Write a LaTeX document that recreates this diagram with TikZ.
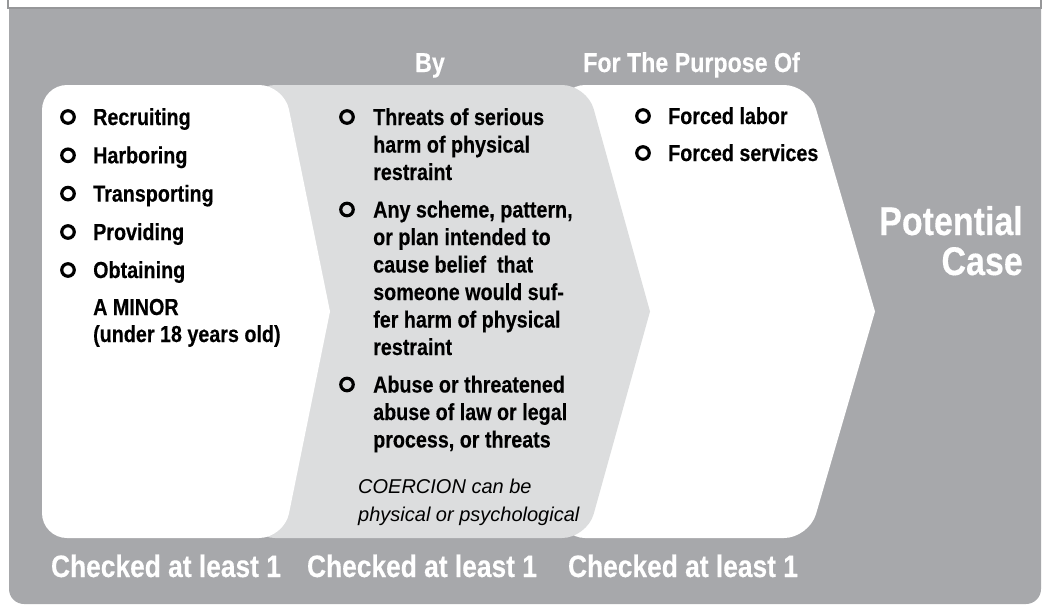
\documentclass[tikz,border=0pt]{standalone}
\usepackage{fontspec}
\setmainfont{Liberation Sans}
\newfontfamily\cond{Liberation Sans}[FakeStretch=0.85,FakeBold=0.3]
\usetikzlibrary{calc}
\definecolor{bggray}{RGB}{167,168,171}
\definecolor{lightg}{RGB}{220,221,222}
\definecolor{bordg}{RGB}{150,151,153}
\tikzset{
  itemtxt/.style={anchor=base west, inner sep=0pt, font=\cond\bfseries\fontsize{23.2}{26}\selectfont},
  bul/.style={draw=black, line width=3.2pt, circle, minimum size=12.5pt, inner sep=0pt, outer sep=0pt},
  headtxt/.style={inner sep=0pt, text=white, font=\cond\bfseries\fontsize{27.3}{30}\selectfont},
  checktxt/.style={anchor=base, inner sep=0pt, text=white, font=\cond\bfseries\fontsize{31}{34}\selectfont},
  bigtxt/.style={anchor=base east, inner sep=0pt, text=white, font=\cond\bfseries\fontsize{40}{42}\selectfont},
  noteline/.style={anchor=base west, inner sep=0pt, font=\itshape\fontsize{20}{28}\selectfont},
}
\begin{document}
\begin{tikzpicture}[x=1pt,y=-1pt]
\useasboundingbox (0,0) rectangle (1046,605);
% background
\fill[bggray, rounded corners=15pt] (9,-40) rectangle (1041,604);
\draw[bordg, line width=1.5pt, fill=white] (8,-20) rectangle (1041,8);
% shape 3 (white)
\fill[white, rounded corners=25pt] (560,311.5) -- (560,85) -- (809,85) -- ($(809,85)!0.5!(875,311.5)$) [sharp corners] -- (875,311.5) -- ($(875,311.5)!0.5!(809,538)$) [rounded corners=25pt] -- (809,538) -- (560,538) -- cycle;
% shape 2 (light gray)
\fill[lightg, rounded corners=25pt] (250,311.5) -- (250,85) -- (587,85) -- ($(587,85)!0.5!(650,311.5)$) [sharp corners] -- (650,311.5) -- ($(650,311.5)!0.5!(587,538)$) [rounded corners=25pt] -- (587,538) -- (250,538) -- cycle;
% shape 1 (white)
\fill[white, rounded corners=25pt] (42,311.5) -- (42,85) -- (284,85) -- ($(284,85)!0.5!(330,311.5)$) [sharp corners] -- (330,311.5) -- ($(330,311.5)!0.5!(284,538)$) [rounded corners=25pt] -- (284,538) -- (42,538) -- cycle;

% headers
\node[headtxt, anchor=base] (hby) at (430,72) {By};
\node[headtxt, anchor=base west] (hpur) at (583,72) {For The Purpose Of};

% left column
\foreach \t/\y [count=\i] in {Recruiting/125, Harboring/163.3, Transporting/201.6, Providing/240, Obtaining/278}{
  \node[bul] (lb\i) at (68,\y-8) {};
  \node[itemtxt] (lt\i) at (93,\y) {\t};
}
\node[itemtxt] (minor1) at (93,315) {A MINOR};
\node[itemtxt] (minor2) at (93,342) {(under 18 years old)};

% middle column
\node[bul] (mb1) at (347,117) {};
\node[bul] (mb2) at (347,209.5) {};
\node[bul] (mb3) at (347,384.5) {};
\foreach \t/\y [count=\i] in {{Threats of serious}/125, {harm of physical}/152.5, {restraint}/180,
  {Any scheme, pattern,}/217.5, {or plan intended to}/245, {cause belief\ \ that}/272.5, {someone would suf-}/300, {fer harm of physical}/327.5, {restraint}/355,
  {Abuse or threatened}/392.5, {abuse of law or legal}/420, {process, or threats}/447.5}{
  \node[itemtxt] (mt\i) at (373,\y) {\t};
}
\node[noteline] (note1) at (358,493) {COERCION can be};
\node[noteline] (note2) at (358,521) {physical or psychological};

% right column
\node[bul] (rb1) at (643,116) {};
\node[bul] (rb2) at (643,153) {};
\node[itemtxt] (rt1) at (668,124) {Forced labor};
\node[itemtxt] (rt2) at (668,161) {Forced services};

% potential case
\node[bigtxt] (pot) at (1023,235) {Potential};
\node[bigtxt] (case) at (1023,275) {Case};

% bottom labels
\node[checktxt] (c1) at (166,577) {Checked at least 1};
\node[checktxt] (c2) at (422,577) {Checked at least 1};
\node[checktxt] (c3) at (683,577) {Checked at least 1};
\end{tikzpicture}
\end{document}
